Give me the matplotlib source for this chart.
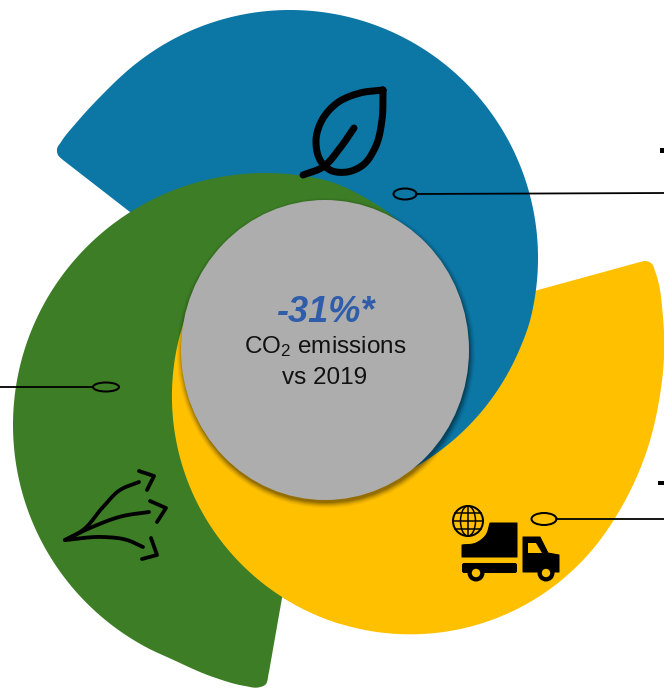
import numpy as np
import matplotlib
matplotlib.use('Agg')
import matplotlib.pyplot as plt
from matplotlib.patches import Circle, Ellipse, Polygon, Rectangle, FancyBboxPatch

plt.rcParams['font.family'] = ['Liberation Sans', 'DejaVu Sans']
plt.rcParams['mathtext.default'] = 'regular'
plt.rcParams['mathtext.fontset'] = 'custom'
plt.rcParams['mathtext.rm'] = 'Liberation Sans'

# headline figures
change_pct = -31
base_year = 2019
metric = 'CO$_{2}$ emissions'

BLUE = '#0C76A5'
GREEN = '#3C7D25'
YELLOW = '#FFC000'
GREY = '#ADADAD'
HEAD = '#2F5DAA'
PX = 0.72  # one pixel in points at dpi 100


def arc(cx, cy, r0, a0, a1, r1=None, n=30):
    # angles in degrees, y axis points down. radius can drift from r0 to r1
    t = np.radians(np.linspace(a0, a1, n))
    r = np.linspace(r0, r0 if r1 is None else r1, n)
    return np.column_stack([cx + r * np.cos(t), cy + r * np.sin(t)])


def smooth(pts, n=14):
    # hermite spline through the waypoints, parametrised by chord length
    p = np.asarray(pts, dtype=float)
    t = np.r_[0, np.cumsum(np.hypot(*np.diff(p, axis=0).T))]
    m = np.gradient(p, t, axis=0)
    out = []
    for i in range(len(p) - 1):
        h = t[i + 1] - t[i]
        for s in np.linspace(0, 1, n, endpoint=False):
            out.append((2 * s ** 3 - 3 * s ** 2 + 1) * p[i] + (s ** 3 - 2 * s ** 2 + s) * h * m[i]
                       + (-2 * s ** 3 + 3 * s ** 2) * p[i + 1] + (s ** 3 - s ** 2) * h * m[i + 1])
    out.append(p[-1])
    return np.array(out)


def stroke(ax, pts, lw, round_it=True, color='black', z=10):
    xy = smooth(pts) if round_it else np.asarray(pts)
    ax.plot(xy[:, 0], xy[:, 1], color=color, lw=lw * PX, solid_capstyle='round',
            solid_joinstyle='round', zorder=z)


fig = plt.figure(figsize=(6.64, 6.88), dpi=100)
ax = fig.add_axes([0, 0, 1, 1])
ax.set_xlim(0, 664)
ax.set_ylim(688, 0)
ax.axis('off')

# yellow swirl
yellow_xy = np.vstack([
    [(400, 340), (538, 290), (640, 262)],
    smooth(np.vstack([[(640, 262), (646, 261), (652, 264), (655, 271), (663, 317), (664, 357), (660, 395),
                       (645, 456)],
                      arc(410, 396, 238.5, 32, 200, r1=238)])),
    [(300, 340)],
])
ax.add_patch(Polygon(yellow_xy, closed=True, fc=YELLOW, ec='none', zorder=1))

# blue swirl
blue_xy = np.vstack([
    [(130, 212), (63, 160)],
    smooth(np.vstack([[(63, 160), (58, 155), (57, 149), (61, 142), (77, 122), (99, 98)],
                      arc(290, 258, 248, 232, 375),
                      arc(290, 258, 247, 22, 66, r1=243, n=12)])),
    [(330, 350)],
])
ax.add_patch(Polygon(blue_xy, closed=True, fc=BLUE, ec='none', zorder=2))

# green swirl
green_xy = np.vstack([
    smooth(np.vstack([[(430, 262), (397, 220), (362, 196)],
                      arc(265, 425, 252, 285, 112),
                      [(213, 677), (245, 686), (258, 687.5), (265, 685), (269, 672)]])),
    [(282, 598), (285, 590), (300, 400)],
])
ax.add_patch(Polygon(green_xy, closed=True, fc=GREEN, ec='none', zorder=3))

# yellow passes back over the green on the lower left
front = Polygon(yellow_xy, closed=True, fc=YELLOW, ec='none', zorder=4)
ax.add_patch(front)
front.set_clip_path(Rectangle((100, 300), 240, 388, transform=ax.transData))

# central disc with its soft shadow
for grow, alpha in zip([10, 8, 6, 4, 2, 0], [0.04, 0.05, 0.07, 0.09, 0.11, 0.14]):
    ax.add_patch(Ellipse((326, 353), 288 + grow, 300 + grow, fc='black', ec='none', alpha=alpha, zorder=5))
ax.add_patch(Ellipse((325, 350), 288, 300, fc=GREY, ec='none', zorder=6))

ax.text(325, 312, f'{change_pct}%*', color=HEAD, fontsize=26, fontweight='bold', fontstyle='italic',
        ha='center', va='center', zorder=8)
ax.text(325, 347, metric, color='#111111', fontsize=17.5, ha='center', va='center', zorder=8)
ax.text(325, 378, f'vs {base_year}', color='#111111', fontsize=17.5, ha='center', va='center', zorder=8)

# callout leaders
callouts = [((405, 194), 23, 11, [(416, 194), (664, 193)]),
            ((106, 387), 26, 9, [(0, 387), (93, 387)]),
            ((544, 519), 25, 12, [(556, 519), (664, 519)])]
for centre, w, h, line in callouts:
    ax.add_patch(Ellipse(centre, w, h, fc='none', ec='black', lw=2 * PX, zorder=9))
    stroke(ax, line, 1.8, round_it=False)
ax.add_patch(Rectangle((660, 148), 4, 5, fc='black', ec='none', zorder=9))
ax.add_patch(Rectangle((658, 481), 6, 4, fc='black', ec='none', zorder=9))

# leaf
stroke(ax, [(383, 90), (360, 93), (337, 103), (322, 120), (316, 140), (322, 163), (330, 170),
            (347, 172), (363, 165), (375, 148), (382, 120), (383, 90)], 7)
stroke(ax, [(303, 175), (323, 167), (340, 148), (354, 128)], 7)

# fanned arrows
for curve, head in [
    ([(65, 540), (83, 530), (103, 507), (120, 490), (139, 482)], [(139, 471), (154, 476), (147, 490)]),
    ([(65, 540), (90, 528), (123, 516), (149, 512)], [(150, 501), (166, 508), (157, 522)]),
    ([(65, 540), (103, 537), (127, 540), (143, 547)], [(151, 538), (157, 555), (142, 559)]),
]:
    stroke(ax, curve, 3.8)
    stroke(ax, head, 3.8, round_it=False)

# truck and globe
box_top = smooth([(490, 523), (486, 535), (476, 543), (462, 545)])
ax.add_patch(Polygon(np.vstack([box_top, [(462, 557), (517, 557), (517, 523)]]), closed=True,
                     fc='black', ec='black', lw=PX, joinstyle='round', zorder=10))
ax.add_patch(FancyBboxPatch((462, 563), 55, 10, boxstyle='round,pad=0,rounding_size=2', fc='black', ec='none', zorder=10))
ax.add_patch(Polygon([(523, 537), (540, 537), (548, 553), (559, 555), (559, 572), (523, 572)],
                     closed=True, fc='black', ec='black', lw=PX, joinstyle='round', zorder=10))
ax.add_patch(Polygon([(528, 543), (536, 543), (542, 553), (528, 553)], closed=True, fc=YELLOW, ec='none', zorder=11))
for wx in (476, 546):
    ax.add_patch(Circle((wx, 573), 8.5, fc='black', ec='none', zorder=12))
    ax.add_patch(Circle((wx, 573), 4.2, fc=YELLOW, ec='none', zorder=13))

gx, gy, gr = 468, 521, 15
ax.add_patch(Circle((gx, gy), gr, fc='none', ec='black', lw=2 * PX, zorder=10))
ax.add_patch(Ellipse((gx, gy), gr, 2 * gr, fc='none', ec='black', lw=1.5 * PX, zorder=10))
ax.plot([gx, gx], [gy - gr, gy + gr], color='black', lw=1.5 * PX, zorder=10)
for dy in (-8, 0, 8):
    half = np.sqrt(gr ** 2 - dy ** 2)
    ax.plot([gx - half, gx + half], [gy + dy, gy + dy], color='black', lw=1.5 * PX, zorder=10)

fig.savefig('out.png', dpi=100, facecolor='white')
